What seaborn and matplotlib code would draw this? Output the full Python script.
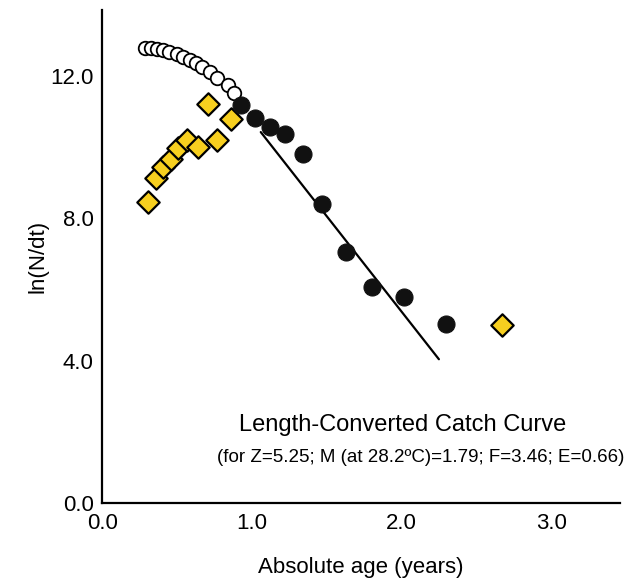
import matplotlib
matplotlib.use("Agg")
import matplotlib.pyplot as plt
import seaborn as sns

# open circles: points not used (left side, not fully selected)
open_age = [0.29, 0.33, 0.37, 0.41, 0.45, 0.50, 0.54, 0.59, 0.63, 0.67, 0.72, 0.77, 0.84, 0.88]
open_lnn = [12.78, 12.78, 12.75, 12.72, 12.67, 12.61, 12.53, 12.44, 12.36, 12.25, 12.11, 11.94, 11.74, 11.52]

# black points: used in the regression
used_age = [0.93, 1.02, 1.12, 1.22, 1.34, 1.47, 1.63, 1.80, 2.02, 2.30]
used_lnn = [11.18, 10.81, 10.56, 10.37, 9.80, 8.40, 7.05, 6.07, 5.79, 5.03]

# yellow diamonds
yel_age = [0.31, 0.36, 0.41, 0.46, 0.51, 0.57, 0.64, 0.71, 0.77, 0.86, 2.67]
yel_lnn = [8.46, 9.13, 9.44, 9.66, 9.97, 10.20, 10.00, 11.20, 10.20, 10.80, 5.00]

# regression line ends
line_age = [1.06, 2.25]
line_lnn = [10.42, 4.04]

xticks = [0.0, 1.0, 2.0, 3.0]
yticks = [0.0, 4.0, 8.0, 12.0]

sns.set_style("white")
plt.rcParams['font.family'] = ['Liberation Sans', 'DejaVu Sans']
plt.rcParams['text.color'] = 'black'
plt.rcParams['axes.labelcolor'] = 'black'

fig = plt.figure(figsize=(6.34, 5.85), dpi=100)
ax = fig.add_axes([0.161, 0.140, 0.817, 0.843])

sns.lineplot(x=line_age, y=line_lnn, ax=ax, color="black", linewidth=1.6)
sns.scatterplot(x=open_age, y=open_lnn, ax=ax, marker="o", s=95,
                facecolor="white", edgecolor="black", linewidth=1.3, zorder=3)
sns.scatterplot(x=yel_age, y=yel_lnn, ax=ax, marker="D", s=130,
                color="#F7CF1F", edgecolor="black", linewidth=1.6, zorder=4)
sns.scatterplot(x=used_age, y=used_lnn, ax=ax, marker="o", s=150,
                color="#111111", edgecolor="#111111", linewidth=0.8, zorder=5)

ax.set_xlim(0, 3.46)
ax.set_ylim(0, 13.85)
ax.set_xticks(xticks)
ax.set_yticks(yticks)
ax.set_xticklabels([f"{t:.1f}" for t in xticks])
ax.set_yticklabels([f"{t:.1f}" for t in yticks])
ax.tick_params(direction="in", length=9, width=1.6, labelsize=16, colors="black", pad=6)
ax.tick_params(axis="x", pad=7)

sns.despine(ax=ax)
for side in ["left", "bottom"]:
    ax.spines[side].set_linewidth(1.6)
    ax.spines[side].set_color("black")

ax.set_xlabel("Absolute age (years)", fontsize=16, labelpad=17)
ax.set_ylabel("ln(N/dt)", fontsize=16, labelpad=1)

ax.text(0.581, 0.158, "Length-Converted Catch Curve", transform=ax.transAxes,
        ha="center", va="center", fontsize=17)
ax.text(0.616, 0.093, "(for Z=5.25; M (at 28.2ºC)=1.79; F=3.46; E=0.66)",
        transform=ax.transAxes, ha="center", va="center", fontsize=13.5)

fig.savefig("out.png", dpi=100)
